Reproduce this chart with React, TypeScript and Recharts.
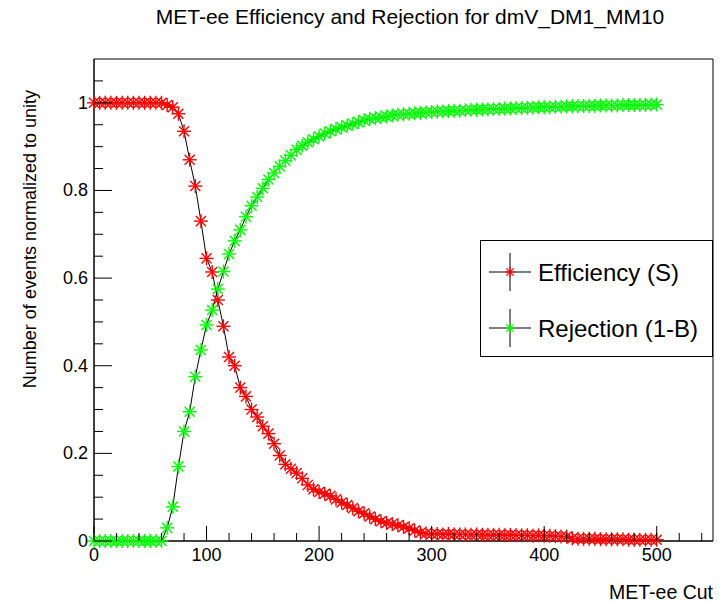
import { LineChart, Line, XAxis, YAxis, Legend, Label, ReferenceArea } from "recharts";

// MET-ee cut values (GeV)
const cuts = [
  0, 5, 10, 15, 20, 25, 30, 35, 40, 45, 50, 55, 60, 65, 70, 75, 80, 85, 90, 95,
  100, 105, 110, 115, 120, 125, 130, 135, 140, 145, 150, 155, 160, 165, 170, 175, 180, 185, 190, 195,
  200, 205, 210, 215, 220, 225, 230, 235, 240, 245, 250, 255, 260, 265, 270, 275, 280, 285, 290, 295,
  300, 305, 310, 315, 320, 325, 330, 335, 340, 345, 350, 355, 360, 365, 370, 375, 380, 385, 390, 395,
  400, 405, 410, 415, 420, 425, 430, 435, 440, 445, 450, 455, 460, 465, 470, 475, 480, 485, 490, 495,
  500,
];

const efficiency = [
  1, 1, 1, 1, 1, 1, 1, 1, 1, 1, 1, 1, 1, 0.995, 0.99, 0.975, 0.935, 0.87, 0.81, 0.73,
  0.645, 0.614, 0.55, 0.49, 0.42, 0.4, 0.35, 0.33, 0.3, 0.283, 0.262, 0.245, 0.222, 0.195, 0.175, 0.165, 0.155, 0.143, 0.128, 0.118,
  0.112, 0.108, 0.103, 0.095, 0.088, 0.082, 0.075, 0.068, 0.063, 0.056, 0.05, 0.045, 0.041, 0.039, 0.036, 0.032, 0.029, 0.024, 0.019, 0.017,
  0.016, 0.016, 0.015, 0.016, 0.015, 0.015, 0.015, 0.014, 0.015, 0.014, 0.014, 0.014, 0.014, 0.013, 0.014, 0.013, 0.013, 0.013, 0.012, 0.013,
  0.012, 0.012, 0.011, 0.01, 0.01, 0.006, 0.005, 0.005, 0.005, 0.005, 0.004, 0.004, 0.004, 0.004, 0.004, 0.003, 0.003, 0.003, 0.003, 0.003,
  0.003,
];

const rejection = [
  0, 0, 0, 0, 0, 0, 0, 0, 0, 0, 0, 0, 0, 0.03, 0.078, 0.17, 0.25, 0.295, 0.375, 0.436,
  0.493, 0.527, 0.575, 0.615, 0.655, 0.685, 0.71, 0.74, 0.765, 0.785, 0.805, 0.825, 0.84, 0.855, 0.868, 0.88, 0.893, 0.902, 0.91, 0.917,
  0.923, 0.93, 0.935, 0.94, 0.944, 0.948, 0.952, 0.956, 0.96, 0.963, 0.965, 0.967, 0.969, 0.971, 0.973, 0.974, 0.975, 0.976, 0.977, 0.978,
  0.979, 0.98, 0.98, 0.981, 0.982, 0.982, 0.983, 0.984, 0.984, 0.985, 0.985, 0.986, 0.986, 0.987, 0.987, 0.988, 0.988, 0.989, 0.989, 0.99,
  0.99, 0.99, 0.991, 0.991, 0.992, 0.992, 0.992, 0.993, 0.993, 0.993, 0.994, 0.994, 0.994, 0.994, 0.995, 0.995, 0.995, 0.995, 0.995, 0.996,
  0.996,
];

const xTicks = [0, 20, 40, 60, 80, 100, 120, 140, 160, 180, 200, 220, 240, 260, 280, 300, 320, 340, 360, 380, 400, 420, 440, 460, 480, 500, 520, 540];
const xLabels = [0, 100, 200, 300, 400, 500];
const yTicks = [0, 0.05, 0.1, 0.15, 0.2, 0.25, 0.3, 0.35, 0.4, 0.45, 0.5, 0.55, 0.6, 0.65, 0.7, 0.75, 0.8, 0.85, 0.9, 0.95, 1, 1.05];
const yLabels = [0, 0.2, 0.4, 0.6, 0.8, 1];

const data = cuts.map((c, i) => ({ cut: c, eff: efficiency[i], rej: rejection[i] }));

const FONT = "'Liberation Sans', Arial, Helvetica, sans-serif";
const markerColor: Record<string, string> = { eff: "#ff0000", rej: "#00ff00" };

const drawStar = (cx: number, cy: number, color: string, r = 7, w = 1.4) => {
  const d = r * 0.72;
  return (
    <>
      <line x1={cx - r} y1={cy} x2={cx + r} y2={cy} stroke={color} strokeWidth={w} />
      <line x1={cx} y1={cy - r} x2={cx} y2={cy + r} stroke={color} strokeWidth={w} />
      <line x1={cx - d} y1={cy - d} x2={cx + d} y2={cy + d} stroke={color} strokeWidth={w} />
      <line x1={cx - d} y1={cy + d} x2={cx + d} y2={cy - d} stroke={color} strokeWidth={w} />
    </>
  );
};

const starDot = (color: string) => (props: any) => {
  const { cx, cy, index } = props;
  if (cx == null || cy == null) return <g key={index} />;
  return <g key={index}>{drawStar(cx, cy, color)}</g>;
};

const XTick = (props: any) => {
  const { x, y, payload } = props;
  const major = xLabels.includes(payload.value);
  return (
    <g>
      <line x1={x} x2={x} y1={y} y2={y - (major ? 15 : 8)} stroke="#000" />
      {major && (
        <text x={x} y={y + 14} textAnchor="middle" dominantBaseline="central" fontSize={18} fontFamily={FONT} fill="#000">
          {payload.value}
        </text>
      )}
    </g>
  );
};

const YTick = (props: any) => {
  const { x, y, payload } = props;
  const major = yLabels.some((v) => Math.abs(v - payload.value) < 1e-6);
  return (
    <g>
      <line x1={x} x2={x + (major ? 18 : 9)} y1={y} y2={y} stroke="#000" />
      {major && (
        <text x={x - 6} y={y} textAnchor="end" dominantBaseline="central" fontSize={18} fontFamily={FONT} fill="#000">
          {String(payload.value)}
        </text>
      )}
    </g>
  );
};

const renderLegend = (props: any) => {
  const { payload = [] } = props;
  return (
    <div style={{ width: 233, height: 117, border: "1px solid #000", boxSizing: "border-box", background: "#fff" }}>
      <svg width={231} height={115}>
        {payload.map((entry: any, i: number) => {
          const cy = 31 + i * 56;
          const key = entry.dataKey as string;
          return (
            <g key={key}>
              <line x1={8} x2={50} y1={cy} y2={cy} stroke="#000" />
              <line x1={29} x2={29} y1={cy - 19} y2={cy + 19} stroke="#000" />
              {drawStar(29, cy, markerColor[key], 5, 1.2)}
              <text x={57} y={cy} dominantBaseline="central" fontSize={24} fontFamily={FONT} fill="#000">
                {entry.value}
              </text>
            </g>
          );
        })}
      </svg>
    </div>
  );
};

export default function App() {
  return (
    <div style={{ position: "absolute", left: 0, top: 0, width: 723, height: 603, background: "#fff" }}>
      <div
        style={{
          position: "absolute",
          left: 0,
          top: 4,
          width: 820,
          textAlign: "center",
          fontFamily: FONT,
          fontSize: 21,
          lineHeight: "26px",
          color: "#000",
          zIndex: 2,
          pointerEvents: "none",
        }}
      >
        MET-ee Efficiency and Rejection for dmV_DM1_MM10
      </div>
      <LineChart width={723} height={603} data={data} margin={{ top: 59, right: 10, bottom: 0, left: 0 }}>
        <XAxis
          dataKey="cut"
          type="number"
          domain={[0, 550]}
          ticks={xTicks}
          interval={0}
          height={62}
          tickSize={0}
          tickMargin={0}
          tickLine={false}
          tick={<XTick />}
          axisLine={{ stroke: "#000" }}
        >
          <Label
            content={(p: any) => (
              <text x={p.viewBox.x + p.viewBox.width} y={p.viewBox.y + 51} textAnchor="end" dominantBaseline="central" fontSize={19.5} fontFamily={FONT} fill="#000">
                MET-ee Cut
              </text>
            )}
          />
        </XAxis>
        <YAxis
          type="number"
          domain={[0, 1.1]}
          ticks={yTicks}
          interval={0}
          width={94}
          tickSize={0}
          tickMargin={0}
          tickLine={false}
          tick={<YTick />}
          axisLine={{ stroke: "#000" }}
        >
          <Label
            content={(p: any) => (
              <text
                x={30}
                y={p.viewBox.y + 31}
                textAnchor="end"
                dominantBaseline="central"
                fontSize={18}
                fontFamily={FONT}
                fill="#000"
                transform={`rotate(-90, 30, ${p.viewBox.y + 31})`}
              >
                Number of events normalized to unity
              </text>
            )}
          />
        </YAxis>
        <ReferenceArea x1={0} x2={550} y1={0} y2={1.1} fill="none" stroke="#000" strokeWidth={1} ifOverflow="visible" />
        <Legend
          layout="horizontal"
          verticalAlign="middle"
          align="center"
          content={renderLegend}
          wrapperStyle={{ left: 480, top: 240, width: 233 }}
        />
        <Line
          type="linear"
          dataKey="eff"
          name="Efficiency (S)"
          stroke="#000"
          strokeWidth={1}
          dot={starDot(markerColor.eff)}
          activeDot={false}
          isAnimationActive={false}
        />
        <Line
          type="linear"
          dataKey="rej"
          name="Rejection (1-B)"
          stroke="#000"
          strokeWidth={1}
          dot={starDot(markerColor.rej)}
          activeDot={false}
          isAnimationActive={false}
        />
      </LineChart>
    </div>
  );
}
